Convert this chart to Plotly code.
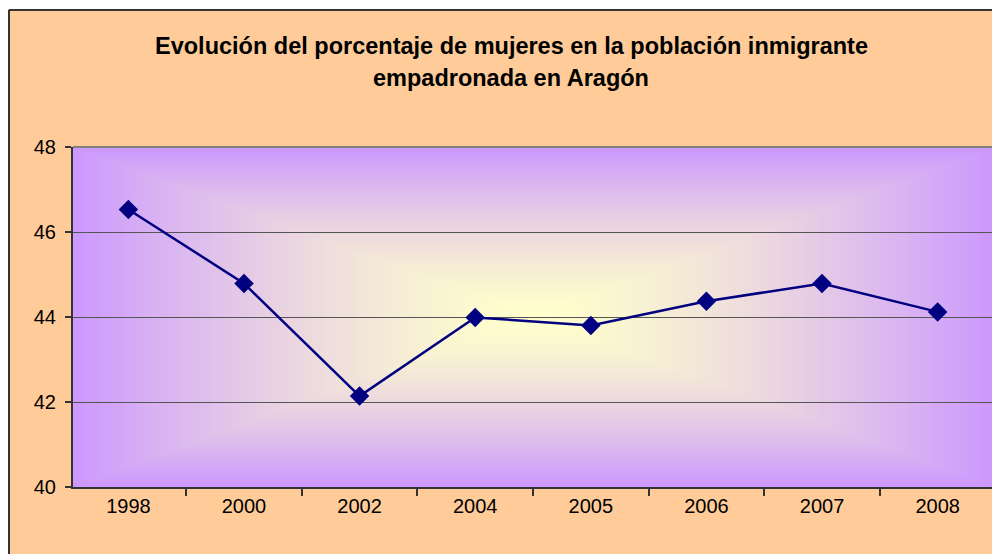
import base64, struct, zlib
import numpy as np
import plotly.graph_objects as go

years = ["1998", "2000", "2002", "2004", "2005", "2006", "2007", "2008"]
pct_women = [46.53, 44.79, 42.14, 43.99, 43.80, 44.37, 44.79, 44.12]
title_line1 = "Evolución del porcentaje de mujeres en la población inmigrante"
title_line2 = "empadronada en Aragón"

# the page body adds an 8px offset; figure coordinates = screen coordinates - 8
OFF = 8
W, H = 1000 - OFF, 554 - OFF
L, R, T, B = 73 - OFF, 993 - OFF, 147 - OFF, 487 - OFF  # plot area in figure pixels


def make_png(arr):
    h, w, _ = arr.shape
    raw = b"".join(b"\x00" + arr[i].tobytes() for i in range(h))

    def chunk(tag, data):
        c = struct.pack(">I", len(data)) + tag + data
        return c + struct.pack(">I", zlib.crc32(tag + data) & 0xFFFFFFFF)

    out = b"\x89PNG\r\n\x1a\n"
    out += chunk(b"IHDR", struct.pack(">IIBBBBB", w, h, 8, 2, 0, 0, 0))
    out += chunk(b"IDAT", zlib.compress(raw, 9))
    out += chunk(b"IEND", b"")
    return "data:image/png;base64," + base64.b64encode(out).decode()


gw, gh = 460, 170
xs = np.abs(np.linspace(-1, 1, gw))[None, :]
ys = np.abs(np.linspace(-1, 1, gh))[:, None]
t = np.maximum(xs, ys)
f = np.clip(t, 0, 1) ** 1.4
c0 = np.array([255, 255, 204], dtype=float)
c1 = np.array([204, 153, 255], dtype=float)
img = (c0[None, None, :] + (c1 - c0)[None, None, :] * f[:, :, None]).round().astype(np.uint8)
grad_src = make_png(img)

pw, ph = R - L, B - T


def px(x):  # screen x -> paper
    return (x - OFF - L) / pw


def py(y):  # screen y -> paper
    return (B - (y - OFF)) / ph


fig = go.Figure()
fig.add_trace(go.Scatter(
    x=years, y=pct_women, mode="lines+markers",
    line=dict(color="#000080", width=2.5),
    marker=dict(symbol="diamond", size=15, color="#000080"),
    showlegend=False, hoverinfo="x+y",
))

fig.add_layout_image(dict(
    source=grad_src, xref="paper", yref="paper", x=0, y=1, sizex=1, sizey=1,
    xanchor="left", yanchor="top", sizing="stretch", layer="below",
))

shapes = [
    # white margins outside the chart frame
    dict(type="rect", xref="paper", yref="paper", x0=px(-5), x1=px(1010), y0=py(9), y1=py(-5),
         fillcolor="white", line=dict(width=0), layer="below"),
    dict(type="rect", xref="paper", yref="paper", x0=px(-5), x1=px(8), y0=py(600), y1=py(-5),
         fillcolor="white", line=dict(width=0), layer="below"),
    # chart frame
    dict(type="line", xref="paper", yref="paper", x0=px(9), x1=px(1010), y0=py(10), y1=py(10),
         line=dict(color="#333333", width=2), layer="above"),
    dict(type="line", xref="paper", yref="paper", x0=px(9), x1=px(9), y0=py(10), y1=py(600),
         line=dict(color="#333333", width=2), layer="above"),
    # plot area border top/right
    dict(type="line", xref="paper", yref="paper", x0=0, x1=1, y0=1, y1=1,
         line=dict(color="#808080", width=2), layer="above"),
    dict(type="line", xref="paper", yref="paper", x0=1, x1=1, y0=0, y1=1,
         line=dict(color="#808080", width=2), layer="above"),
]

annotations = [
    dict(text=title_line1, xref="paper", yref="paper", x=px(511), y=py(46),
         xanchor="center", yanchor="middle", showarrow=False,
         font=dict(family="Liberation Sans, Arial, sans-serif", size=23.5, color="black", weight="bold")),
    dict(text=title_line2, xref="paper", yref="paper", x=px(511), y=py(78),
         xanchor="center", yanchor="middle", showarrow=False,
         font=dict(family="Liberation Sans, Arial, sans-serif", size=23.5, color="black", weight="bold")),
]

fig.update_layout(
    width=W, height=H,
    margin=dict(l=L, r=W - R, t=T, b=H - B, pad=0),
    paper_bgcolor="#FFCC99",
    plot_bgcolor="rgba(0,0,0,0)",
    shapes=shapes,
    annotations=annotations,
    font=dict(family="Liberation Sans, Arial, sans-serif", size=20, color="black"),
    xaxis=dict(
        type="category", tickson="boundaries", ticks="outside", ticklen=7,
        tickcolor="#333333", tickwidth=1.5,
        showline=True, linecolor="#333333", linewidth=2,
        showgrid=False, zeroline=False, fixedrange=True,
        tickfont=dict(size=20),
    ),
    yaxis=dict(
        range=[40, 48], dtick=2, tick0=40, ticks="outside", ticklen=6,
        ticklabelstandoff=5,
        tickcolor="#333333", tickwidth=1.5,
        showline=True, linecolor="#333333", linewidth=2,
        showgrid=True, gridcolor="#555555", gridwidth=1.2,
        zeroline=False, fixedrange=True,
        tickfont=dict(size=20),
    ),
)

fig.write_html("out.html")
